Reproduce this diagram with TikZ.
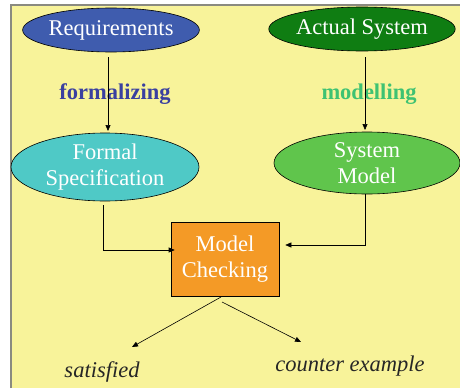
\documentclass[tikz,border=0pt]{standalone}
\usepackage{fontspec}
\setmainfont{Liberation Serif}
\usetikzlibrary{shapes.geometric,arrows.meta}
\definecolor{bgyellow}{HTML}{F8F39A}
\definecolor{reqblue}{HTML}{3F5CAE}
\definecolor{actgreen}{HTML}{0F7D12}
\definecolor{speccyan}{HTML}{4FC9C6}
\definecolor{modgreen}{HTML}{60C54C}
\definecolor{mcorange}{HTML}{F49A26}
\definecolor{formblue}{HTML}{3A40A0}
\definecolor{modlgreen}{HTML}{3EC272}
\definecolor{framegray}{HTML}{8A8A80}
\tikzset{
  oval/.style={ellipse, draw=black, line width=0.6pt, inner sep=0pt, text=white, font=\fontsize{22.5}{26}\selectfont, align=center},
  mcbox/.style={rectangle, draw=black, line width=0.6pt, fill=mcorange, text=white, font=\fontsize{22.5}{26}\selectfont, align=center, minimum width=108pt, minimum height=74pt},
  lbl/.style={font=\fontsize{22.5}{26}\selectfont\bfseries},
  res/.style={font=\fontsize{22.5}{26}\selectfont\itshape, text=black!85},
  conn/.style={line width=0.6pt, -{Triangle[length=6pt,width=5pt]}}
}
\begin{document}
\begin{tikzpicture}[x=1pt,y=-1pt]
\useasboundingbox (0,0) rectangle (460,388);
\fill[white] (0,0) rectangle (460,388);
\fill[bgyellow] (11,5) rectangle (460,388);
\draw[framegray, line width=2pt] (11,388) -- (11,5) -- (460,5);
\node[oval, fill=reqblue, minimum width=164pt, minimum height=44pt] (req) at (111,30) {Requirements};
\node[oval, fill=actgreen, minimum width=165pt, minimum height=44pt] (act) at (362,29) {Actual System};
\node[oval, fill=speccyan, minimum width=188pt, minimum height=68pt] (spec) at (105,167) {Formal\\Specification};
\node[oval, fill=modgreen, minimum width=186pt, minimum height=62pt] (sys) at (367,163) {System\\Model};
\node[mcbox] (mc) at (225,259) {Model\\Checking};
\node[lbl, text=formblue] (form) at (115,94) {formalizing};
\node[lbl, text=modlgreen] (modl) at (369,94) {modelling};
\node[res] (sat) at (102,372) {satisfied};
\node[res] (ce) at (350,366) {counter example};
\coordinate (reqs) at (108,57);
\coordinate (reqe) at (108,131);
\coordinate (acts) at (365,57);
\coordinate (acte) at (365,130);
\draw[conn] (reqs) -- (reqe);
\draw[conn] (acts) -- (acte);
\coordinate (fs1) at (103,205);
\coordinate (sm1) at (365,194);
\draw[conn] (fs1) |- ([xshift=4pt]mc.west |- 0,250);
\draw[conn] (sm1) |- ([xshift=6pt]mc.east |- 0,245);
\coordinate (mcb1) at (221,297);
\coordinate (mcb2) at (222,302);
\coordinate (s1) at (132,347);
\coordinate (c1) at (301,342);
\draw[conn] (mcb1) -- (s1);
\draw[conn] (mcb2) -- (c1);
\end{tikzpicture}
\end{document}
